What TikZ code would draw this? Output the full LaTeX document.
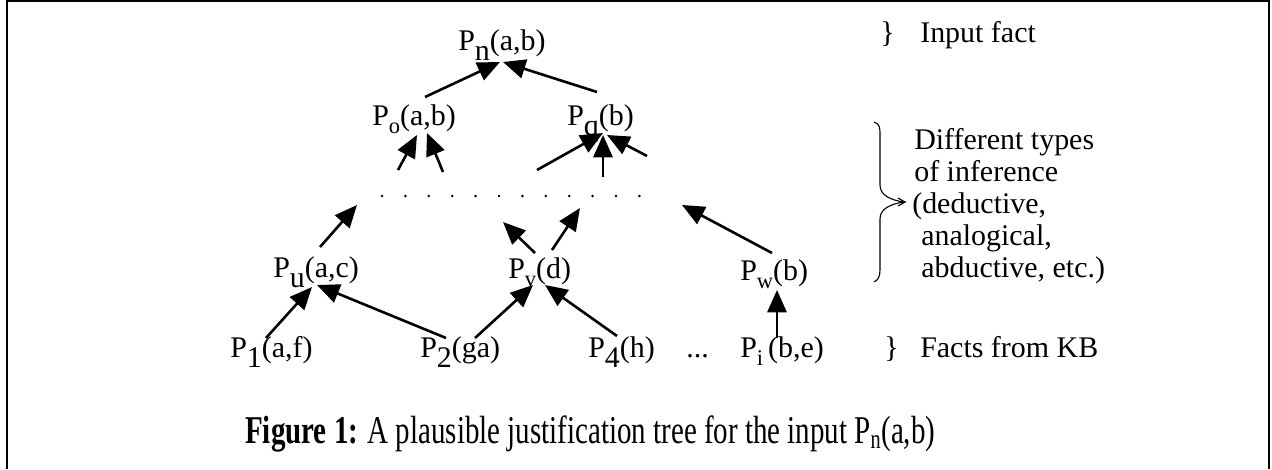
\documentclass[tikz,border=0pt]{standalone}
\usepackage{fontspec}
\usepackage{graphicx}
\setmainfont{Liberation Serif}
\usetikzlibrary{arrows.meta}
\newcommand{\lo}[1]{\raisebox{-0.36em}{#1}}
\newcommand{\los}[1]{\raisebox{-0.3em}{\scalebox{0.75}{#1}}}
\begin{document}
\begin{tikzpicture}[x=0.25mm,y=-0.25mm,
  lbl/.style={inner sep=0pt, anchor=base west, font=\fontsize{21.3pt}{25pt}\selectfont},
  captxt/.style={inner sep=0pt, anchor=base west, font=\fontsize{28pt}{32pt}\selectfont},
  arr/.style={line width=0.65mm, -{Triangle[length=5.6mm,width=4.8mm]}},
  frameline/.style={line width=0.55mm},
  bracel/.style={line width=0.28mm}]
\useasboundingbox (0,0) rectangle (1272,469);
\draw[frameline] (7,469) -- (7,1) -- (1269,1) -- (1269,469);
% nodes
\node[lbl] (pn) at (458,50) {P\lo{n}(a,b)};
\node[lbl] (po) at (372,125) {P\los{o}(a,b)};
\node[lbl] (pq) at (567,125) {P\lo{q}(b)};
\node[lbl] (pu) at (273,277) {P\lo{u}(a,c)};
\node[lbl] (pv) at (508,278) {P\los{v}(d)};
\node[lbl] (pw) at (740,280) {P\los{w}(b)};
\node[lbl] (p1) at (230,357) {P\lo{1}(a,f)};
\node[lbl] (p2) at (420,357) {P\lo{2}(ga)};
\node[lbl] (p4) at (588,357) {P\lo{4}(h)};
\node[lbl] (pdots) at (686,357) {...};
\node[lbl] (pi) at (740,357) {P\los{i}\,(b,e)};
\node[lbl] (br1) at (880,42) {\}};
\node[lbl] (inp) at (920,42) {Input fact};
\node[lbl] (br2) at (884,357) {\}};
\node[lbl] (kb) at (920,357) {Facts from KB};
\node[lbl] (t1) at (914,149) {Different types};
\node[lbl] (t2) at (914,181) {of inference};
\node[lbl] (t3) at (912,213) {(deductive,};
\node[lbl] (t4) at (921,245) {analogical,};
\node[lbl] (t5) at (921,277) {abductive, etc.)};
\node[captxt] (caption) at (245,443) {\resizebox{172.5mm}{\height}{\textbf{Figure 1:} A plausible justification tree for the input P\textsubscript{n}(a,b)}};
% dots
\foreach \i in {0,...,11} \fill (382+23.4*\i,196) circle (1.4);
% arrow end points
\coordinate (a1s) at (425,97);  \coordinate (a1e) at (500,62);
\coordinate (a2s) at (597,92);  \coordinate (a2e) at (503,62);
\coordinate (a3s) at (398,170); \coordinate (a3e) at (417,135);
\coordinate (a4s) at (443,172); \coordinate (a4e) at (427,133);
\coordinate (a5s) at (537,170); \coordinate (a5e) at (603,133);
\coordinate (a6s) at (603,177); \coordinate (a6e) at (603,135);
\coordinate (a7s) at (647,156); \coordinate (a7e) at (607,135);
\coordinate (a8s) at (320,247); \coordinate (a8e) at (357,205);
\coordinate (a9s) at (535,253); \coordinate (a9e) at (503,222);
\coordinate (a10s) at (552,250); \coordinate (a10e) at (580,208);
\coordinate (a11s) at (772,253); \coordinate (a11e) at (682,205);
\coordinate (a12s) at (266,338); \coordinate (a12e) at (312,287);
\coordinate (a13s) at (446,338); \coordinate (a13e) at (317,285);
\coordinate (a14s) at (475,338); \coordinate (a14e) at (533,285);
\coordinate (a15s) at (617,336); \coordinate (a15e) at (545,285);
\coordinate (a16s) at (777,338); \coordinate (a16e) at (777,290);
\foreach \k in {1,...,16} \draw[arr] (a\k s) -- (a\k e);
% brace
\draw[bracel] (874,122) .. controls (880,124) and (880,128) .. (880,135) -- (880,185)
  .. controls (880,195) and (890,200) .. (904,202)
  .. controls (890,204) and (880,209) .. (880,219) -- (880,270)
  .. controls (880,277) and (878,280) .. (874,282);
\draw[bracel] (898,198) -- (905,202) -- (898,206);
\end{tikzpicture}
\end{document}
